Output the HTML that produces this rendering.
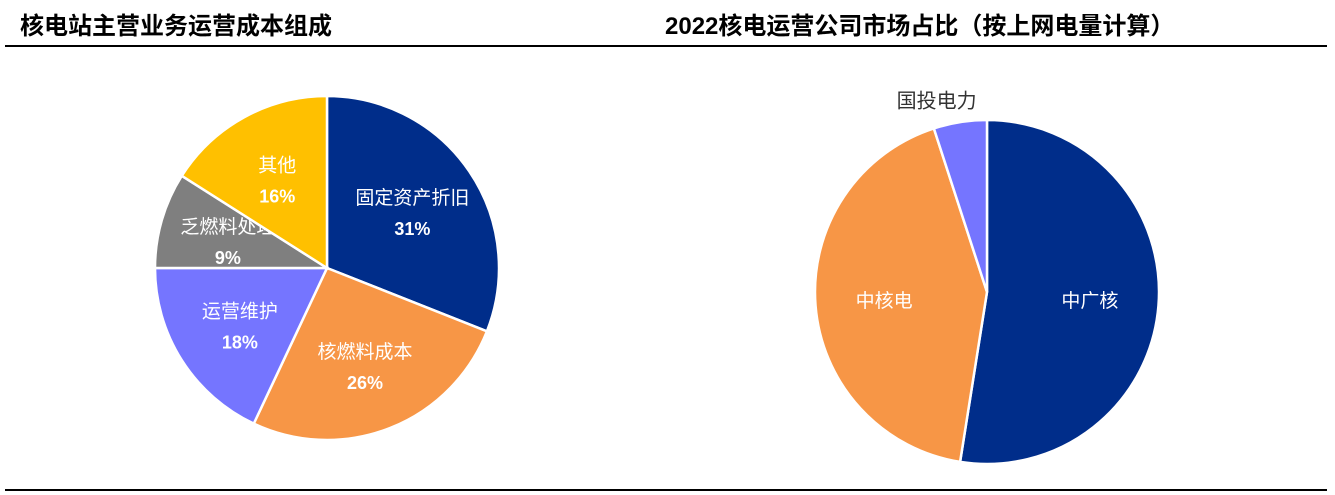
<!DOCTYPE html>
<html><head><meta charset="utf-8"><style>
body{margin:0;width:1335px;height:495px;background:#fff;overflow:hidden;position:relative;font-family:"Liberation Sans","Noto Sans CJK SC",sans-serif}
.t{position:absolute;top:6px;font-size:24px;font-weight:bold;color:#000;white-space:nowrap}
.ln{position:absolute;left:5px;width:1322px;height:2px;background:#000}
svg{position:absolute;left:0;top:0}
</style></head><body>
<div class="t" style="left:20px">核电站主营业务运营成本组成</div>
<div class="t" style="left:665px">2022核电运营公司市场占比（按上网电量计算）</div>
<div class="ln" style="top:45px"></div>
<div class="ln" style="top:489px"></div>
<svg id="s" width="1335" height="495"></svg>
<script>
const leftLabels=["固定资产折旧","核燃料成本","运营维护","乏燃料处理","其他"];
const leftValues=[31,26,18,9,16];
const leftColors=["#002D8A","#F79646","#7575FF","#7F7F7F","#FFC000"];
const rightLabels=["中广核","中核电","国投电力"];
const rightValues=[52.5,42.5,5];
const rightColors=["#002D8A","#F79646","#7575FF"];
const NS="http://www.w3.org/2000/svg";
const svg=document.getElementById('s');
function mk(t,a){const e=document.createElementNS(NS,t);for(const k in a)e.setAttribute(k,a[k]);svg.appendChild(e);return e;}
function pie(cx,cy,r,labels,values,colors,showPct,outside,name){
  const tot=values.reduce((a,b)=>a+b,0);let a0=0;
  values.forEach((v,i)=>{
    const a1=a0+v/tot*2*Math.PI;
    const p=(a)=>[cx+r*Math.sin(a),cy-r*Math.cos(a)];
    const [x0,y0]=p(a0),[x1,y1]=p(a1);
    const path=mk('path',{d:`M${cx},${cy}L${x0},${y0}A${r},${r} 0 ${a1-a0>Math.PI?1:0} 1 ${x1},${y1}Z`,fill:colors[i],stroke:'#fff','stroke-width':2.5});
    
    
    const am=(a0+a1)/2;
    let lr=outside[i]?r+22:r*0.6;
    const lx=cx+lr*Math.sin(am),ly=cy-lr*Math.cos(am);
    const col=outside[i]?'#333':'#fff';
    const t=mk('text',{x:outside[i]?lx-20:lx,y:showPct?ly-6:ly+7,'text-anchor':'middle','font-size':outside[i]?20:19,fill:col});
    t.textContent=labels[i];
    
    
    if(showPct){const t2=mk('text',{x:lx,y:ly+25,'text-anchor':'middle','font-size':18,'font-weight':'bold',fill:col});t2.textContent=Math.round(v/tot*100)+'%';
      
      }
    a0=a1;
  });
}
pie(327,268,172,leftLabels,leftValues,leftColors,true,[false,false,false,false,false],'cost-pie');
pie(987,292,172,rightLabels,rightValues,rightColors,false,[false,false,true],'share-pie');
</script>
</body></html>
